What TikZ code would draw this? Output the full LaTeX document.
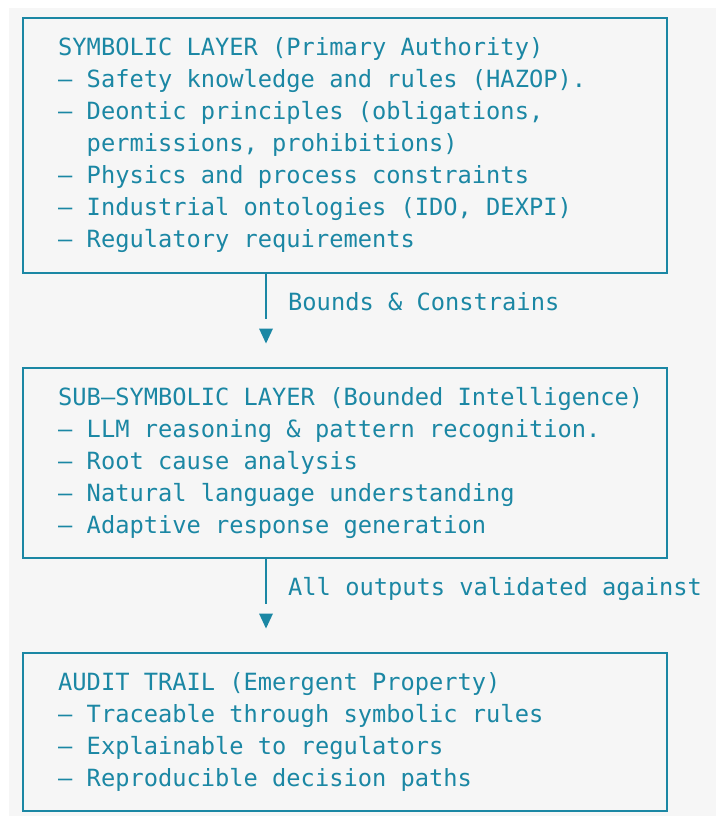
\documentclass[tikz,border=0pt]{standalone}
\usepackage{fontspec}
\newfontfamily\layerfont{DejaVu Sans Mono}
\definecolor{layerteal}{RGB}{27,135,164}
\definecolor{panelgray}{RGB}{246,246,246}

\begin{document}
\begin{tikzpicture}
			[x=1pt,y=-1pt,
			%Styles
			layer/.style={draw=layerteal,line width=2.2pt,anchor=north west,
				minimum width=644pt,minimum height=#1,inner sep=0pt},
			layer text/.style={anchor=north west,inner sep=0pt,align=left,
				text=layerteal,font=\layerfont\fontsize{23.7}{32}\selectfont},
			flow/.style={draw=layerteal,line width=2.2pt},
			flow label/.style={anchor=base west,inner sep=0pt,text=layerteal,
				font=\layerfont\fontsize{23.7}{32}\selectfont}
			]
			
			%Background
			\fill[white] (0,0) rectangle (716,821);
			\fill[panelgray] (9,8) rectangle (716,816);
			
			%The layers
			\node[layer=255pt] (symbolic) at (22,17) {};
			\node[layer text] (symbolic text) at (58,37.6) {%
				SYMBOLIC LAYER (Primary Authority)\\
				– Safety knowledge and rules (HAZOP).\\
				– Deontic principles (obligations,\\
				\ \ permissions, prohibitions)\\
				– Physics and process constraints\\
				– Industrial ontologies (IDO, DEXPI)\\
				– Regulatory requirements};
			
			\node[layer=190pt] (subsymbolic) at (22,367) {};
			\node[layer text] (subsymbolic text) at (58,387.6) {%
				SUB–SYMBOLIC LAYER (Bounded Intelligence)\\
				– LLM reasoning \& pattern recognition.\\
				– Root cause analysis\\
				– Natural language understanding\\
				– Adaptive response generation};
			
			\node[layer=158pt] (audit) at (22,652) {};
			\node[layer text] (audit text) at (58,672.6) {%
				AUDIT TRAIL (Emergent Property)\\
				– Traceable through symbolic rules\\
				– Explainable to regulators\\
				– Reproducible decision paths};
			
			%Flow between layers
			\coordinate (tip1) at (266,336);
			\coordinate (tip2) at (266,621);
			\draw[flow] (symbolic.south -| tip1) -- ++(0,45);
			\fill[layerteal] (tip1) ++(-7,-7.5) -- ++(14,0) -- ++(-7,15) -- cycle;
			\draw[flow] (subsymbolic.south -| tip2) -- ++(0,45);
			\fill[layerteal] (tip2) ++(-7,-7.5) -- ++(14,0) -- ++(-7,15) -- cycle;
			
			\node[flow label] (bounds) at (288,310) {Bounds \& Constrains};
			\node[flow label] (validated) at (288,595) {All outputs validated against};
\end{tikzpicture}
\end{document}
